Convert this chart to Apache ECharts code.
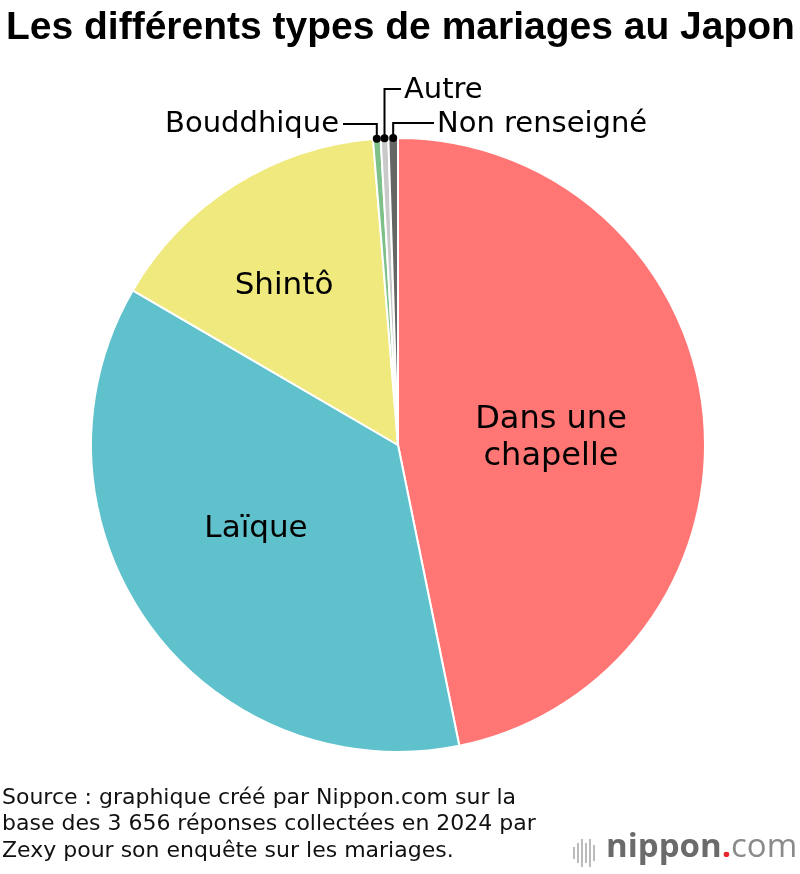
<!DOCTYPE html>
<html><head><meta charset="utf-8">
<script src="https://cdn.jsdelivr.net/npm/echarts@6/dist/echarts.min.js"></script>
<style>html,body{margin:0;padding:0;background:#fff}#c{width:800px;height:874px}</style>
</head><body><div id="c"></div>
<script>
const categories = ['Dans une\nchapelle', 'Laïque', 'Shintô', 'Bouddhique', 'Autre', 'Non renseigné'];
const values = [46.8, 36.6, 15.3, 0.4, 0.4, 0.5];
const colors = ['#FF7674', '#5EC1CC', '#F0E97E', '#7DC089', '#C9C9C9', '#666666'];
const titleText = 'Les différents types de mariages au Japon';
const sourceText = 'Source : graphique créé par Nippon.com sur la\nbase des 3 656 réponses collectées en 2024 par\nZexy pour son enquête sur les mariages.';

const FONT = '"Liberation Sans", Arial, Helvetica, sans-serif';
const LFONT = '"DejaVu Sans", sans-serif';
// label placement (text anchors only)
const labelPos = [
  {x: 551, y: 438, align: 'center'},
  {x: 256, y: 529, align: 'center'},
  {x: 284, y: 286, align: 'center'},
  {x: 339, y: 124, align: 'right', ly: 124, lx: 343},
  {x: 404, y: 90, align: 'left', ly: 89, lx: 401},
  {x: 437, y: 124, align: 'left', ly: 123, lx: 434}
];
const dots = [];

const chart = echarts.init(document.getElementById('c'), null, {renderer: 'canvas'});
const data = categories.map((c, i) => {
  const small = i >= 3;
  return {
    name: c, value: values[i],
    itemStyle: {color: colors[i]},
    label: small ? {position: 'outside', fontSize: 29} : {position: 'inside', fontSize: (i === 0 ? 32 : 31), lineHeight: 37},
    labelLine: {show: small}
  };
});

function baseOption(graphicExtra) {
  return {
    animation: false,
    title: {
      text: titleText, left: 1, top: 4,
      textStyle: {fontFamily: FONT, fontWeight: 'bold', fontSize: 39, color: '#000'}
    },
    graphic: [
      {type: 'text', left: 2, top: 785, style: {text: sourceText, font: '22px ' + LFONT, lineHeight: 26.5, fill: '#111'}},
      {type: 'group', left: 573, top: 839, children: [
        {type: 'rect', shape: {x: 0, y: 9, width: 2, height: 12}, style: {fill: '#bbb'}},
        {type: 'rect', shape: {x: 4, y: 5, width: 2, height: 20}, style: {fill: '#bbb'}},
        {type: 'rect', shape: {x: 8, y: 1, width: 2, height: 28}, style: {fill: '#bbb'}},
        {type: 'rect', shape: {x: 12, y: 5, width: 2, height: 20}, style: {fill: '#bbb'}},
        {type: 'rect', shape: {x: 16, y: 1, width: 2, height: 28}, style: {fill: '#bbb'}},
        {type: 'rect', shape: {x: 20, y: 7, width: 2, height: 16}, style: {fill: '#bbb'}}
      ]},
      {type: 'text', left: 606, top: 831, style: {
        text: '{a|nippon}{b|.}{c|com}',
        rich: {
          a: {fontFamily: '"Open Sans", sans-serif', fontWeight: 'bold', fontSize: 33, fill: '#6b6b6b'},
          b: {fontFamily: '"Open Sans", sans-serif', fontWeight: 'bold', fontSize: 33, fill: '#e8262b'},
          c: {fontFamily: '"Open Sans", sans-serif', fontWeight: 'normal', fontSize: 33, fill: '#8a8a8a'}
        }
      }}
    ].concat(graphicExtra || []),
    series: [{
      type: 'pie',
      center: [398, 445],
      radius: [0, 307],
      startAngle: 90,
      clockwise: true,
      avoidLabelOverlap: false,
      itemStyle: {borderColor: '#fff', borderWidth: 2},
      label: {color: '#000', fontFamily: LFONT, formatter: '{b}'},
      labelLine: {lineStyle: {color: '#000', width: 2}, length: 10, length2: 10},
      labelLayout: function (p) {
        const lp = labelPos[p.dataIndex];
        const res = {x: lp.x, y: lp.y, align: lp.align, verticalAlign: 'middle'};
        if (p.dataIndex >= 3 && p.labelLinePoints) {
          const s = p.labelLinePoints[0];
          dots[p.dataIndex - 3] = [s[0], s[1]];
          res.labelLinePoints = [[s[0], s[1]], [s[0], lp.ly], [lp.lx, lp.ly]];
        }
        return res;
      },
      data: data
    }]
  };
}

chart.setOption(baseOption());
const dotGraphics = dots.filter(Boolean).map(d => ({
  type: 'circle', shape: {cx: d[0], cy: d[1], r: 4}, style: {fill: '#000'}, z: 100
}));
chart.setOption(baseOption(dotGraphics), true);
</script></body></html>
